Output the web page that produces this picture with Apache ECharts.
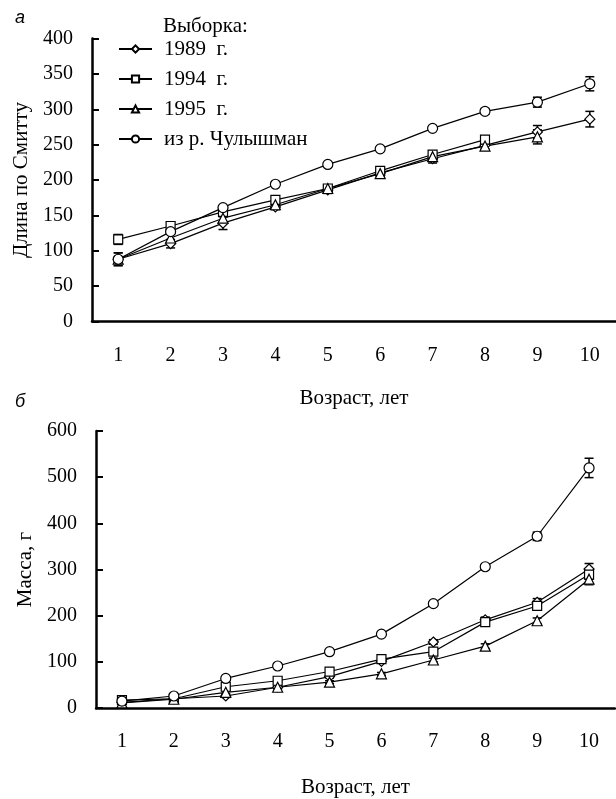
<!DOCTYPE html>
<html>
<head>
<meta charset="utf-8">
<script src="https://cdn.jsdelivr.net/npm/echarts@6/dist/echarts.min.js"></script>
<style>
  html, body { margin: 0; padding: 0; background: #fff; }
  #main { width: 616px; height: 799px; }
</style>
</head>
<body>
<div id="main"></div>
<script>
var myChart = echarts.init(document.getElementById('main'));

var ages = ['1', '2', '3', '4', '5', '6', '7', '8', '9', '10'];
var names = ['1989  г.', '1994  г.', '1995  г.', 'из р. Чулышман'];
var symbols = ['diamond', 'rect', 'triangle', 'circle'];

// а: длина по Смитту, мм
var len1989 = [88, 110, 139, 162, 186, 210, 230, 249, 268, 286];
var len1994 = [116, 135, 155, 172, 188, 213, 236, 257];
var len1995 = [88, 118, 146, 165, 188, 209, 233, 248, 261];
var lenChul = [88, 127, 161, 194, 222, 244, 273, 297, 310, 336];
var lenErr1989 = [9, 6, 9, 4, 5, 5, 6, 5, 9, 11];
var lenErr1994 = [7, 5, 4, 4, 4, 4, 4, 4];
var lenErr1995 = [9, 6, 6, 4, 4, 4, 5, 5, 10];
var lenErrChul = [3, 3, 2, 2, 2, 2, 2, 4, 7, 10];

// б: масса, г
var mass1989 = [12, 20, 26, 45, 68, 101, 143, 191, 229, 301];
var mass1994 = [17, 20, 46, 59, 79, 106, 122, 186, 221, 289];
var mass1995 = [11, 19, 34, 45, 56, 74, 104, 134, 189, 279];
var massChul = [15, 26, 64, 91, 122, 160, 226, 306, 372, 520];
var massErr1989 = [3, 2, 3, 3, 3, 4, 5, 6, 8, 12];
var massErr1994 = [3, 2, 3, 3, 3, 4, 6, 6, 8, 10];
var massErr1995 = [3, 2, 3, 3, 3, 3, 4, 5, 6, 12];
var massErrChul = [2, 2, 3, 3, 3, 3, 4, 5, 9, 21];

var serif = 'Liberation Serif';

function errData(vals, errs) {
  var out = [];
  for (var i = 0; i < vals.length; i++) {
    out.push([i, vals[i] - errs[i], vals[i] + errs[i]]);
  }
  return out;
}

function renderErr(params, api) {
  var lo = api.coord([api.value(0), api.value(1)]);
  var hi = api.coord([api.value(0), api.value(2)]);
  var w = 4.5;
  var st = { stroke: '#000', lineWidth: 1.5 };
  return {
    type: 'group',
    children: [
      { type: 'line', shape: { x1: lo[0], y1: lo[1], x2: hi[0], y2: hi[1] }, style: st },
      { type: 'line', shape: { x1: lo[0] - w, y1: lo[1], x2: lo[0] + w, y2: lo[1] }, style: st },
      { type: 'line', shape: { x1: hi[0] - w, y1: hi[1], x2: hi[0] + w, y2: hi[1] }, style: st }
    ]
  };
}

function lineSeries(name, sym, data, gi) {
  return {
    name: name,
    type: 'line',
    xAxisIndex: gi,
    yAxisIndex: gi,
    data: data,
    symbol: sym,
    symbolSize: sym === 'triangle' ? 10 : (sym === 'rect' ? 9 : 10),
    animation: false,
    z: 3,
    lineStyle: { color: '#000', width: 1.2 },
    itemStyle: { color: '#fff', borderColor: '#000', borderWidth: 1.2 }
  };
}

function errSeries(vals, errs, gi) {
  return {
    type: 'custom',
    xAxisIndex: gi,
    yAxisIndex: gi,
    data: errData(vals, errs),
    renderItem: renderErr,
    animation: false,
    silent: true,
    z: 1
  };
}

function xAxisCfg(gi, nameGap) {
  return {
    type: 'category',
    gridIndex: gi,
    data: ages,
    boundaryGap: true,
    name: 'Возраст, лет',
    nameLocation: 'middle',
    nameGap: nameGap,
    nameTextStyle: { fontFamily: serif, fontSize: 21, color: '#000' },
    axisLine: { lineStyle: { color: '#000', width: 2.5 } },
    axisTick: { inside: true, length: 7, lineStyle: { color: '#000', width: 2 } },
    axisLabel: { margin: 24, fontFamily: serif, fontSize: 20, color: '#000' },
    splitLine: { show: false }
  };
}

function yAxisCfg(gi, max, interval, name, nameGap) {
  return {
    type: 'value',
    gridIndex: gi,
    min: 0,
    max: max,
    interval: interval,
    name: name,
    nameLocation: 'middle',
    nameGap: nameGap,
    nameTextStyle: { fontFamily: serif, fontSize: 21, color: '#000' },
    axisLine: { show: true, lineStyle: { color: '#000', width: 2.5 } },
    axisTick: { show: true, inside: true, length: 7, lineStyle: { color: '#000', width: 2 } },
    axisLabel: { margin: 19, fontFamily: serif, fontSize: 20, color: '#000' },
    splitLine: { show: false }
  };
}

option = {
  animation: false,
  backgroundColor: '#fff',
  title: [
    { text: 'а', left: 10, top: 4, textStyle: { fontFamily: 'Liberation Sans', fontStyle: 'italic', fontWeight: 'normal', fontSize: 18, color: '#000' } },
    { text: 'б', left: 10, top: 388, textStyle: { fontFamily: 'Liberation Sans', fontStyle: 'italic', fontWeight: 'normal', fontSize: 18, color: '#000' } },
    { text: 'Выборка:', left: 158, top: 11, textStyle: { fontFamily: serif, fontWeight: 'normal', fontSize: 21, color: '#000' } }
  ],
  legend: {
    data: names,
    orient: 'vertical',
    left: 113,
    top: 33,
    itemWidth: 33,
    itemHeight: 9,
    itemGap: 8,
    selectedMode: false,
    textStyle: { fontFamily: serif, fontSize: 21, color: '#000', lineHeight: 22, padding: [0, 0, 0, 7] }
  },
  grid: [
    { left: 92, right: 0, top: 38.5, height: 283 },
    { left: 96, right: 1, top: 431, height: 281 }
  ],
  xAxis: [xAxisCfg(0, 66), xAxisCfg(1, 69)],
  yAxis: [
    yAxisCfg(0, 400, 50, 'Длина по Смитту', 60),
    yAxisCfg(1, 600, 100, 'Масса, г', 51)
  ],
  series: [
    errSeries(len1989, lenErr1989, 0),
    errSeries(len1994, lenErr1994, 0),
    errSeries(len1995, lenErr1995, 0),
    errSeries(lenChul, lenErrChul, 0),
    lineSeries(names[0], symbols[0], len1989, 0),
    lineSeries(names[1], symbols[1], len1994, 0),
    lineSeries(names[2], symbols[2], len1995, 0),
    lineSeries(names[3], symbols[3], lenChul, 0),
    errSeries(mass1989, massErr1989, 1),
    errSeries(mass1994, massErr1994, 1),
    errSeries(mass1995, massErr1995, 1),
    errSeries(massChul, massErrChul, 1),
    lineSeries(names[0], symbols[0], mass1989, 1),
    lineSeries(names[1], symbols[1], mass1994, 1),
    lineSeries(names[2], symbols[2], mass1995, 1),
    lineSeries(names[3], symbols[3], massChul, 1)
  ]
};

myChart.setOption(option);
</script>
</body>
</html>
